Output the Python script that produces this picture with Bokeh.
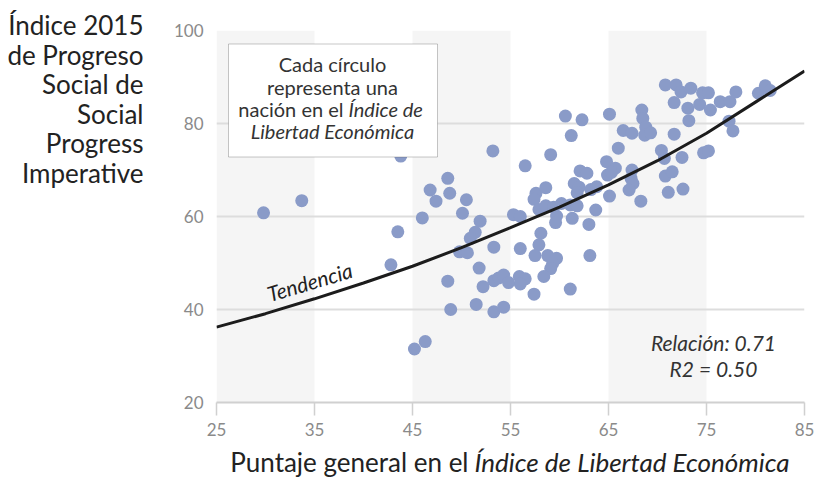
from bokeh.plotting import figure
from bokeh.models import FixedTicker, BoxAnnotation, Label, Range1d
from bokeh.layouts import column, row
from bokeh.embed import file_html
from bokeh.resources import INLINE

# ---- data ----
econ_freedom = [
    29.8, 33.7, 43.8, 43.5, 42.8, 45.2, 46.3,
    53.2, 48.6, 46.8, 47.4, 48.8, 50.5, 50.1, 46.0,
    51.9, 51.4, 50.9, 49.8, 50.6, 53.3, 51.8, 48.6,
    52.2, 53.3, 53.8, 54.3, 54.8, 55.9, 56.5, 56.0,
    48.9, 51.5, 53.3, 54.3, 55.3, 56.0, 56.0,
    60.6, 62.3, 65.1, 61.2, 59.1, 56.5, 64.8, 66.0, 66.5,
    62.1, 62.8, 57.6, 57.4, 58.6, 61.5, 62.0, 61.8,
    63.2, 63.8, 64.9, 65.7, 65.3, 65.1,
    57.9, 58.6, 59.4, 60.2, 59.7, 59.6, 61.3, 61.1, 61.8,
    63.7, 63.0, 58.1, 57.9, 57.5, 58.8, 59.7, 59.3, 59.1,
    58.4, 63.1, 57.4, 61.1,
    70.8, 71.9, 72.4, 73.4, 74.6, 75.2, 71.7, 73.1, 74.3,
    75.4, 73.2, 68.4, 68.5, 68.8, 68.7, 69.3, 67.4, 71.7,
    70.4, 70.7, 72.5, 74.7, 75.2, 67.4, 67.3, 67.5, 67.1,
    70.8, 71.5, 71.1, 72.6, 68.3,
    76.4, 77.4, 78.0, 80.3, 81.0, 81.5, 77.3, 77.7,
]
social_progress = [
    60.8, 63.4, 73.0, 56.7, 49.6, 31.5, 33.1,
    74.1, 68.2, 65.7, 63.3, 65.0, 63.6, 60.7, 59.7,
    59.0, 56.6, 55.3, 52.4, 52.2, 53.4, 48.9, 46.1,
    44.9, 46.2, 46.8, 47.4, 45.8, 47.1, 46.6, 45.5,
    40.0, 41.1, 39.5, 40.5, 60.4, 60.0, 53.1,
    81.6, 80.8, 82.0, 77.4, 73.3, 70.9, 71.8, 74.7, 78.5,
    69.8, 69.3, 65.0, 63.7, 66.2, 67.1, 66.3, 65.1,
    65.8, 66.4, 68.9, 70.4, 69.5, 64.4,
    61.5, 62.3, 62.0, 62.8, 60.1, 58.7, 59.6, 62.5, 62.3,
    61.4, 58.3, 56.4, 53.9, 51.6, 51.6, 51.0, 49.9, 48.8,
    47.1, 51.6, 43.3, 44.4,
    88.3, 88.3, 86.8, 87.6, 86.6, 86.6, 84.5, 83.3, 84.1,
    82.9, 80.6, 82.9, 81.1, 79.2, 77.5, 78.0, 77.9, 77.7,
    74.2, 72.5, 72.7, 73.7, 74.1, 70.0, 68.2, 67.1, 65.7,
    68.7, 69.6, 65.2, 65.9, 63.3,
    84.7, 84.7, 86.8, 86.5, 88.1, 87.1, 80.5, 78.4,
]
trend_x = [25, 30, 35, 40, 45, 50, 55, 60, 65, 70, 75, 80, 85]
trend_y = [36.2, 39.1, 42.3, 45.7, 49.3, 53.3, 57.6, 62.0, 66.8, 72.0, 77.9, 84.6, 91.3]
x_ticks = [25, 35, 45, 55, 65, 75, 85]
band_start = [25, 45, 65]
band_end = [35, 55, 75]
y_ticks = [20, 40, 60, 80, 100]
y_title = ["Índice 2015", "de Progreso", "Social de", "Social", "Progress", "Imperative"]
x_title = ["Puntaje general en el", "Índice de Libertad Económica"]

# ---- layout (page pixels) ----
PAGE_W, PAGE_H = 818, 478
LEFT_W = 150            # width of the y-title strip
TOP_H = 446             # height of the plot
FL, FR, FT, FB = 216, 804, 30, 402   # plot frame edges in page px
X0, X1, Y0, Y1 = 25, 85, 20, 100
BASE_SHIFT = 0.4        # alphabetic-baseline correction, in em

def dx(px):  # page px -> data x
    return X0 + (px - FL) * (X1 - X0) / (FR - FL)

def dy(py):  # page px -> data y
    return Y1 - (py - FT) * (Y1 - Y0) / (FB - FT)

FONT = "Lato"
DARK = "#222222"
NOTE = "#333333"

p = figure(width=PAGE_W - LEFT_W, height=TOP_H, output_backend="svg",
           toolbar_location=None, x_range=(X0, X1), y_range=(Y0, Y1),
           min_border_left=FL - LEFT_W, min_border_right=PAGE_W - FR,
           min_border_top=FT, min_border_bottom=TOP_H - FB)
p.outline_line_color = None
p.background_fill_color = "white"
p.border_fill_color = "white"

# vertical bands (underlay, painted before the grid lines)
bands = [BoxAnnotation(left=a, right=b, fill_color="#f5f5f5", fill_alpha=1.0,
                       line_color=None, level="underlay")
         for a, b in zip(band_start, band_end)]
p.center = bands + list(p.center)

p.xgrid.grid_line_color = None
p.ygrid.ticker = FixedTicker(ticks=y_ticks)
p.ygrid.grid_line_color = "#dddddd"
p.ygrid.grid_line_width = 2

# x axis
xa = p.xaxis[0]
xa.ticker = FixedTicker(ticks=x_ticks)
xa.axis_line_color = "#d0d0d0"
xa.axis_line_width = 2
xa.major_tick_line_color = "#d0d0d0"
xa.major_tick_line_width = 1.5
xa.major_tick_out = 13
xa.major_tick_in = 0
xa.minor_tick_line_color = None
xa.major_label_standoff = 7
xa.major_label_text_font = FONT
xa.major_label_text_font_size = "17px"
xa.major_label_text_color = "#8a8a8a"

# y axis
ya = p.yaxis[0]
ya.ticker = FixedTicker(ticks=y_ticks)
ya.axis_line_color = None
ya.major_tick_line_color = None
ya.minor_tick_line_color = None
ya.major_tick_out = 0
ya.major_tick_in = 0
ya.major_label_standoff = 13
ya.major_label_text_font = FONT
ya.major_label_text_font_size = "17px"
ya.major_label_text_color = "#8a8a8a"

# points and trend
p.scatter(econ_freedom, social_progress, size=13, color="#8a9bc8", line_color=None)
p.line(trend_x, trend_y, line_color="#1c1c1c", line_width=3)

def lab(fig, x, y, text, size, align="left", style="normal", color=DARK, angle=0.0):
    fig.add_layout(Label(x=x, y=y, text=text, text_font=FONT, text_font_size=f"{size}px",
                         text_font_style=style, text_color=color,
                         text_align=align, text_baseline="alphabetic",
                         angle=angle, angle_units="deg"))

def plab(px, py, text, size, align="left", style="normal", color=DARK, angle=0.0):
    # py is the wanted baseline in page px
    lab(p, dx(px), dy(py - BASE_SHIFT * size), text, size, align, style, color, angle)

# note box (drawn before its text)
p.add_layout(BoxAnnotation(left=dx(228), right=dx(437), top=dy(43.5), bottom=dy(156.5),
                           fill_color="white", fill_alpha=1.0,
                           line_color="#444444", line_width=1))
plab(332, 71.7, "Cada círculo", 20, "center", color=NOTE)
plab(332, 94, "representa una", 20, "center", color=NOTE)
plab(343, 116.7, "nación en el", 20, "right", color=NOTE)
plab(348, 116.7, "Índice de", 20, "left", "italic", color=NOTE)
plab(332, 138.5, "Libertad Económica", 20, "center", "italic", color=NOTE)

# trend label
plab(267, 302, "Tendencia", 21, "left", "italic", color=DARK, angle=16.5)

# correlation text
plab(713, 350.5, "Relación: 0.71", 21, "center", "italic", color=NOTE)
plab(713, 376.5, "R2 = 0.50", 21, "center", "italic", color=NOTE)

def text_strip(w, h, x_rng, y_rng, left=0, right=0):
    f = figure(width=w, height=h, output_backend="svg", toolbar_location=None,
               title_location=None, x_range=x_rng, y_range=y_rng,
               x_axis_location=None, y_axis_location=None,
               min_border=0, min_border_left=left, min_border_right=right,
               min_border_top=0, min_border_bottom=0)
    f.outline_line_color = None
    f.grid.visible = False
    f.background_fill_color = "white"
    f.border_fill_color = "white"
    return f

# y title strip: full page height, page-pixel coordinates
yt = text_strip(LEFT_W, PAGE_H, Range1d(0, LEFT_W), Range1d(PAGE_H, 0))
for i, t in enumerate(y_title):
    lab(yt, 143, 35 + i * 29.5 - BASE_SHIFT * 26, t, 26, "right", color=DARK)

# x title strip: below the plot, same horizontal frame as the plot
xt = text_strip(PAGE_W - LEFT_W, PAGE_H - TOP_H, Range1d(FL, FR), Range1d(PAGE_H, TOP_H),
                left=FL - LEFT_W, right=PAGE_W - FR)
lab(xt, 468, 472 - BASE_SHIFT * 26, x_title[0], 26, "right", color=DARK)
lab(xt, 474, 472 - BASE_SHIFT * 26, x_title[1], 26, "left", "italic", color=DARK)

layout = row(yt, column(p, xt, spacing=0), spacing=0)
open("out.html", "w").write(file_html(layout, INLINE))
